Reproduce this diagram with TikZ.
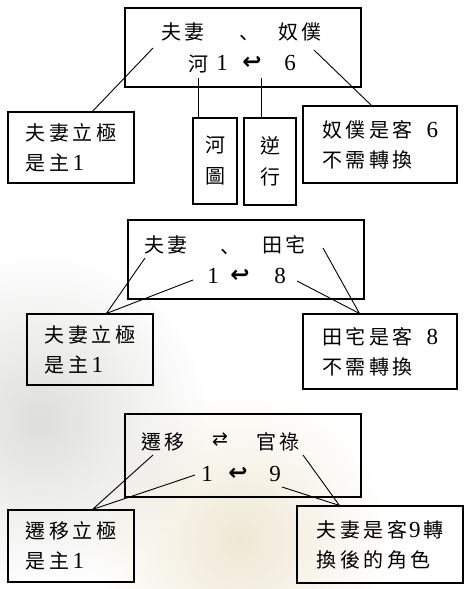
\documentclass[tikz,border=0pt]{standalone}
\usepackage{fontspec}
\setmainfont{Liberation Serif}
\newfontfamily\cjk{Noto Sans CJK TC}
\newfontfamily\symf{DejaVu Sans}
\newcommand\mysize{\fontsize{20}{30}\selectfont}
\newcommand\g{\hspace{3.5pt}}
\newcommand\dg[1]{{\rmfamily\fontsize{23}{30}\selectfont #1}}
\definecolor{hazegray}{RGB}{222,222,220}
\definecolor{hazebeige}{RGB}{238,232,212}
\begin{document}
\begin{tikzpicture}[x=1pt,y=-1pt,
  box/.style={draw, line width=1.1pt, rectangle, inner sep=0pt},
  tbox/.style={box, align=left, font=\mysize\cjk},
  vbox/.style={box, align=center, font=\fontsize{20}{31}\selectfont\cjk},
  txt/.style={inner sep=0pt, font=\mysize\cjk},
  num/.style={inner sep=0pt, font=\rmfamily\fontsize{23}{23}\selectfont},
  arr/.style={inner sep=0pt, font=\symf\bfseries\fontsize{23}{23}\selectfont},
  conn/.style={line width=0.9pt}]
\useasboundingbox (0,0) rectangle (470,589);
\fill[white] (0,0) rectangle (470,589);
% faint background haze
\shade[blend mode=multiply, inner color=hazegray, outer color=white] (40,420) circle (170pt);
\shade[blend mode=multiply, inner color=hazebeige, outer color=white] (240,540) circle (150pt);

% ---------- group 1 ----------
\node[box, minimum width=236pt, minimum height=79pt] (M1) at (243,47.5) {};
\node[txt] (t1a) at (183,32) {夫\g 妻};
\node[txt] (t1b) at (243,40) {、};
\node[txt] (t1c) at (300,32) {奴\g 僕};
\node[txt] (t1d) at (198,64) {河};
\node[num] (t1e) at (222,63) {1};
\node[arr] (t1f) at (252,63) {↩};
\node[num] (t1g) at (290,63) {6};
\node[tbox, minimum width=126pt, minimum height=71pt] (L1) at (71,147.5) {夫\g 妻\g 立\g 極\\是\g 主\g\dg{1}};
\node[tbox, minimum width=154pt, minimum height=77pt] (R1) at (380,144.5) {奴\g 僕\g 是\g 客\hspace{14pt}\dg{6}\\不\g 需\g 轉\g 換};
\node[vbox, minimum width=44pt, minimum height=86pt] (V1) at (215,161) {河\\圖};
\node[vbox, minimum width=52pt, minimum height=87pt] (V2) at (270,161.5) {逆\\行};
\coordinate (a1) at (153,48);
\coordinate (a2) at (314,50);
\coordinate (a3) at (198,78);
\coordinate (a4) at (261,78);
\draw[conn] (a1) -- ([xshift=85pt]L1.north west);
\draw[conn] (a2) -- ([xshift=69pt]R1.north west);
\draw[conn] (a3) -- (a3 |- V1.north);
\draw[conn] (a4) -- (a4 |- V2.north);

% ---------- group 2 ----------
\node[box, minimum width=236pt, minimum height=79pt] (M2) at (246,259.5) {};
\node[txt] (t2a) at (166,245) {夫\g 妻};
\node[txt] (t2b) at (224,254) {、};
\node[txt] (t2c) at (284,245) {田\g 宅};
\node[num] (t2d) at (213,276) {1};
\node[arr] (t2e) at (240,276) {↩};
\node[num] (t2f) at (280,276) {8};
\node[tbox, minimum width=126pt, minimum height=71pt] (L2) at (90,349.5) {夫\g 妻\g 立\g 極\\是\g 主\g\dg{1}};
\node[tbox, minimum width=154pt, minimum height=75pt] (R2) at (380,351.5) {田\g 宅\g 是\g 客\hspace{14pt}\dg{8}\\不\g 需\g 轉\g 換};
\coordinate (b1) at (145,258);
\coordinate (b2) at (193,280);
\coordinate (b3) at (323,248);
\coordinate (b4) at (297,281);
\draw[conn] (b1) -- ([xshift=80pt]L2.north west) -- (b2);
\draw[conn] (b3) -- ([xshift=57pt]R2.north west) -- (b4);

% ---------- group 3 ----------
\node[box, minimum width=236pt, minimum height=83pt] (M3) at (243,455.5) {};
\node[txt] (t3a) at (163,442) {遷\g 移};
\node[arr] (t3b) at (220,440) {\mdseries\fontsize{19}{19}\selectfont ⇄};
\node[txt] (t3c) at (278,442) {官\g 祿};
\node[num] (t3d) at (207,474) {1};
\node[arr] (t3e) at (238,474) {↩};
\node[num] (t3f) at (275,474) {9};
\node[tbox, minimum width=126pt, minimum height=72pt] (L3) at (71,546) {遷\g 移\g 立\g 極\\是\g 主\g\dg{1}};
\node[tbox, minimum width=166pt, minimum height=77pt] (R3) at (380,544.5) {夫\g 妻\g 是\g 客\hspace{2pt}\dg{9}\hspace{3pt}轉\\換\g 後\g 的\g 角\g 色};
\coordinate (c1) at (153,455);
\coordinate (c2) at (195,475);
\coordinate (c3) at (303,455);
\coordinate (c4) at (282,487);
\draw[conn] (c1) -- ([xshift=85pt]L3.north west) -- (c2);
\draw[conn] (c3) -- ([xshift=43pt]R3.north west) -- (c4);
\end{tikzpicture}
\end{document}
